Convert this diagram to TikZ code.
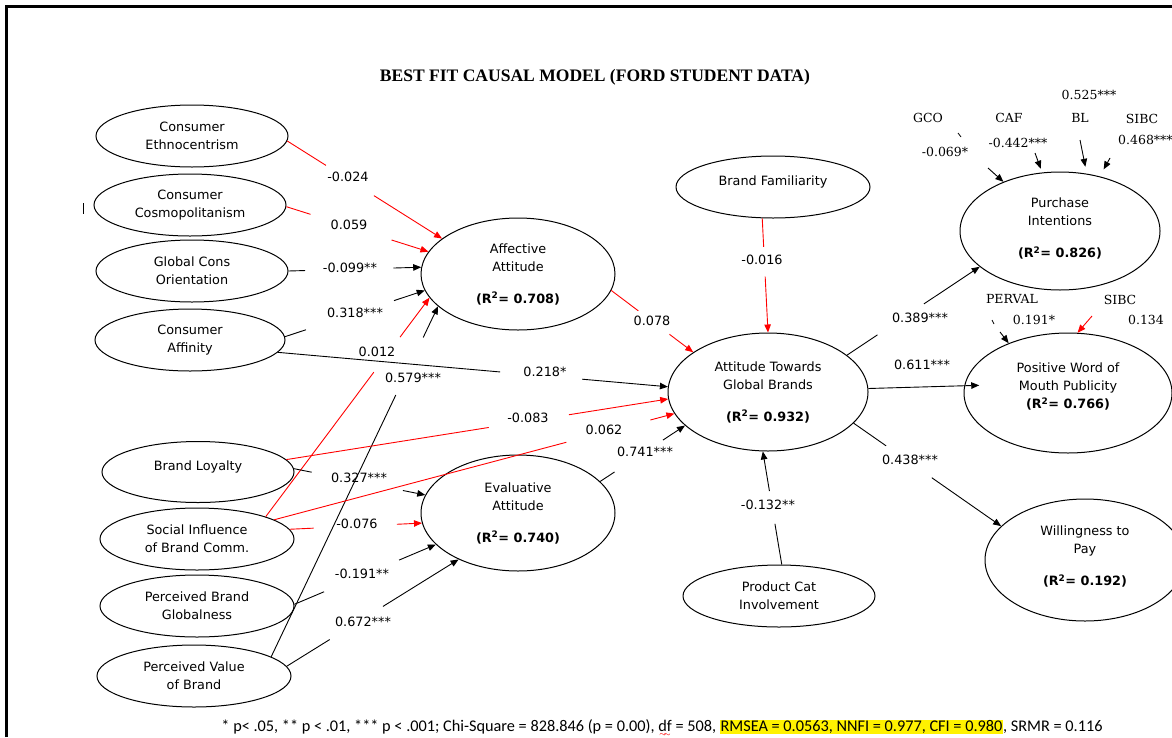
\documentclass[tikz,border=0pt]{standalone}
\usepackage{fontspec}
\usepackage{graphicx}
\setmainfont{DejaVu Sans}
\newfontfamily\sideserif{DejaVu Serif}
\newfontfamily\headfont{Liberation Serif}
\newfontfamily\notefont{Carlito}
\usetikzlibrary{arrows.meta,calc,shapes.geometric}

% path coefficient: a line broken by a gap where its label sits
% #1 extra style, #2 start, #3 end, #4/#5 fractions where the gap starts/ends
\newcommand\gaplink[5][]{%
  \draw[conn,#1] #2 -- ($#2!#4!#3$);
  \draw[conn,headed,#1] ($#2!#5!#3$) -- #3;}

% spell-check squiggle under a word
\newcommand\squiggle[1]{\rlap{\kern0.3pt\textcolor{red}{\raisebox{-3.5pt}{\tiny$\sim\!\!\sim$}}}#1}

% stacked lines, lifted by #1 above the centre of their ellipse
\newcommand\lifted[2]{\raisebox{0pt}[\height][\dimexpr\depth+#1*2\relax]{\begin{tabular}{@{}c@{}}#2\end{tabular}}}

\tikzset{
  latent/.style={draw, ellipse, line width=1pt, inner sep=1pt, align=center,
    font=\fontsize{12.8}{18}\selectfont},
  coef/.style={inner sep=0pt, font=\fontsize{12.8}{15}\selectfont},
  sidelbl/.style={inner sep=0pt, font=\sideserif\fontsize{12.5}{15}\selectfont},
  conn/.style={line width=0.9pt},
  headed/.style={-{Triangle[length=8pt,width=6.5pt]}},
  redline/.style={red},
}

\begin{document}
\begin{tikzpicture}[x=1pt,y=-1pt]
\useasboundingbox (0,0) rectangle (1172,737);
\clip (0,0) rectangle (1172,737);

% page frame
\draw[line width=3pt] (6.5,737) -- (6.5,6.5) -- (1172,6.5);
\draw[line width=0.8pt] (83,203) -- (83,214);

% title
\node (title) at (595,77) {\resizebox{430pt}{!}{\headfont\bfseries BEST FIT CAUSAL MODEL (FORD STUDENT DATA)}};

% exogenous constructs
\node[latent, minimum width=192pt, minimum height=62pt] (ce)   at (192,136) {Consumer\\Ethnocentrism};
\node[latent, minimum width=192pt, minimum height=62pt] (cc)   at (190,205) {Consumer\\Cosmopolitanism};
\node[latent, minimum width=192pt, minimum height=62pt] (gco)  at (192,271) {Global Cons\\Orientation};
\node[latent, minimum width=190pt, minimum height=62pt] (caf)  at (190,340) {Consumer\\Affinity};
\node[latent, minimum width=192pt, minimum height=61pt] (bl)   at (198,472) {\raisebox{13pt}{Brand Loyalty}};
\node[latent, minimum width=194pt, minimum height=62pt] (sibc) at (197,539) {Social Influence\\of Brand Comm.};
\node[latent, minimum width=194pt, minimum height=62pt] (pbg)  at (197,606) {Perceived Brand\\Globalness};
\node[latent, minimum width=194pt, minimum height=62pt] (pvb)  at (194,676) {Perceived Value\\of Brand};
\node[latent, minimum width=194pt, minimum height=62pt] (bf)   at (773,187) {\raisebox{12pt}{Brand Familiarity}};
\node[latent, minimum width=192pt, minimum height=62pt] (pci)  at (779,596) {Product Cat\\Involvement};

% endogenous constructs
\node[latent, minimum width=194pt, minimum height=112pt] (aa) at (518,274)
  {Affective\\Attitude\\[14pt]\textbf{(R\textsuperscript{2}= 0.708)}};
\node[latent, minimum width=194pt, minimum height=116pt] (ea) at (518,513)
  {Evaluative\\Attitude\\[14pt]\textbf{(R\textsuperscript{2}= 0.740)}};
\node[latent, minimum width=200pt, minimum height=118pt] (atgb) at (768,392)
  {Attitude Towards\\Global Brands\\[14pt]\textbf{(R\textsuperscript{2}= 0.932)}};
\node[latent, minimum width=200pt, minimum height=118pt] (pi) at (1060,231)
  {\lifted{2pt}{Purchase\\Intentions\\[14pt]\textbf{(R\textsuperscript{2}= 0.826)}}};
\node[latent, minimum width=208pt, minimum height=120pt] (pwom) at (1068,393)
  {\lifted{6pt}{Positive Word of\\Mouth Publicity\\\textbf{(R\textsuperscript{2}= 0.766)}}};
\node[latent, minimum width=200pt, minimum height=122pt] (wtp) at (1085,560)
  {\lifted{3pt}{Willingness to\\Pay\\[14pt]\textbf{(R\textsuperscript{2}= 0.192)}}};

% paths into Affective Attitude
\gaplink[redline]{(ce.-3)}{(aa.155)}{0.25}{0.56}
\gaplink[redline]{(cc.-1)}{(aa.166)}{0.17}{0.74}
\gaplink{(gco.0)}{(aa.176)}{0.126}{0.79}
\gaplink{(caf.2)}{(aa.-170)}{0.15}{0.78}
\gaplink[redline]{(sibc.18)}{(aa.-165)}{0.66}{0.82}
\gaplink{(pvb.14)}{(aa.-158)}{0.747}{0.911}

% paths into Attitude Towards Global Brands
\gaplink[redline]{(aa.-10)}{(atgb.152)}{0.33}{0.71}
\gaplink[redline]{(bf.-109)}{(atgb.north)}{0.25}{0.51}
\gaplink{(caf.-8)}{(atgb.177)}{0.57}{0.78}
\gaplink[redline]{(bl.8)}{(atgb.-176)}{0.53}{0.74}
\gaplink[redline]{(sibc.14)}{(atgb.-167)}{0.73}{0.94}
\gaplink{(ea.21)}{(atgb.-158)}{0.17}{0.74}
\gaplink{(pci.85)}{(atgb.-95)}{0.36}{0.65}

% paths into Evaluative Attitude
\gaplink{(bl.2)}{(ea.169)}{0.135}{0.83}
\gaplink[redline]{(sibc.6)}{(ea.-174)}{0.18}{0.81}
\gaplink{(pbg.1)}{(ea.-159)}{0.21}{0.74}
\gaplink{(pvb.6)}{(ea.-142)}{0.25}{0.56}

% outcomes
\gaplink{(atgb.25)}{(pi.-156)}{0.23}{0.58}
\draw[conn,headed,shorten >=-15pt] (atgb.2) -- (pwom.176);
\gaplink{(atgb.-20)}{(wtp.158)}{0.22}{0.53}

% coefficients
\node[coef] (c1)  at (348,177) {-0.024};
\node[coef] (c2)  at (349,225) {0.059};
\node[coef] (c3)  at (350,268) {-0.099**};
\node[coef] (c4)  at (355,313) {0.318***};
\node[coef] (c5)  at (377,352) {0.012};
\node[coef] (c6)  at (413,378) {0.579***};
\node[coef] (c7)  at (652,321) {0.078};
\node[coef] (c8)  at (762,260) {-0.016};
\node[coef] (c9)  at (545,372) {0.218*};
\node[coef] (c10) at (528,418) {-0.083};
\node[coef] (c11) at (604,430) {0.062};
\node[coef] (c12) at (645,452) {0.741***};
\node[coef] (c13) at (768,505) {-0.132**};
\node[coef] (c14) at (359,478) {0.327***};
\node[coef] (c15) at (357,524) {-0.076};
\node[coef] (c16) at (362,574) {-0.191**};
\node[coef] (c17) at (363,622) {0.672***};
\node[coef] (c18) at (920,318) {0.389***};
\node[coef] (c19) at (922,365) {0.611***};
\node[coef] (c20) at (910,460) {0.438***};

% direct effects on Purchase Intentions
\node[sidelbl] (s-gco)  at (928,118) {GCO};
\node[sidelbl] (s-caf)  at (1009,118) {CAF};
\node[sidelbl] (s-bl)   at (1080,118) {BL};
\node[sidelbl] (s-sibc) at (1142,119) {SIBC};
\node[sidelbl] (v-bl)   at (1089,95) {0.525***};
\node[sidelbl] (v-gco)  at (945,152) {-0.069*};
\node[sidelbl] (v-caf)  at (1018,143) {-0.442***};
\node[sidelbl, anchor=west] (v-sibc) at (1118,140) {0.468***};
\coordinate (t-gco)  at (988,168);
\coordinate (t-caf)  at (1035,153);
\coordinate (t-bl)   at (1080,140);
\coordinate (t-sibc) at (1110,158);
\draw[line width=0.8pt] (958,133) -- (961,137);
\draw[conn,headed] (t-gco) -- (pi.139);
\draw[conn,headed,shorten >=4pt] (t-caf) -- (pi.107);
\draw[conn,headed,shorten >=7pt] (t-bl) -- (pi.65);
\draw[conn,headed,shorten >=8pt] (t-sibc) -- (pi.54);

% direct effects on Positive Word of Mouth
\node[sidelbl] (s-perval) at (1012,299) {PERVAL};
\node[sidelbl] (v-perval) at (1034,320) {0.191*};
\node[sidelbl] (s-sibc2)  at (1120,300) {SIBC};
\node[sidelbl] (v-sibc2)  at (1146,320) {0.134};
\coordinate (t-perval) at (1000,332);
\coordinate (t-sibc2)  at (1092,316);
\draw[line width=0.8pt] (992,320) -- (994,324);
\draw[conn,headed] (t-perval) -- (pwom.140);
\draw[conn,headed,redline] (t-sibc2) -- (pwom.81);

% fit statistics
\node[font=\notefont\fontsize{11}{13}\selectfont] (note) at (662,728)
  {\resizebox{881pt}{!}{* p< .05, ** p < .01, *** p < .001; Chi-Square = 828.846 (p = 0.00), \squiggle{df} = 508, {\fboxsep=0.5pt\colorbox{yellow}{RMSEA = 0.0563, NNFI = 0.977, CFI = 0.980}}, SRMR = 0.116}};
\end{tikzpicture}
\end{document}
